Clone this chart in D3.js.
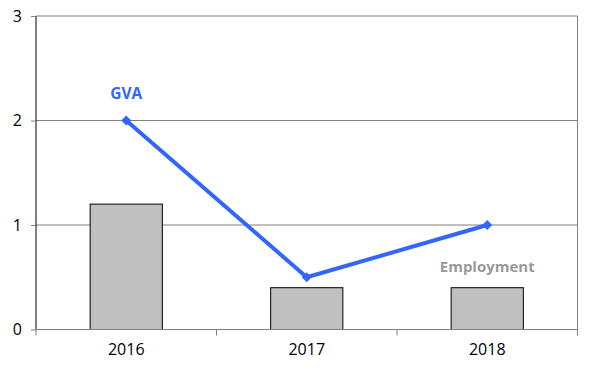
<!DOCTYPE html>
<html><head><meta charset="utf-8">
<script src="https://cdn.jsdelivr.net/npm/d3@7"></script>
<style>body{margin:0;background:#fff}svg{display:block}text{font-family:"Open Sans","DejaVu Sans",sans-serif}</style>
</head><body><svg id="c" width="600" height="375"></svg>
<script>
const categories = ["2016", "2017", "2018"];
const employment = [1.2, 0.4, 0.4];
const gva = [2, 0.5, 1];
const yTicks = [0, 1, 2, 3];
const seriesLabels = ["GVA", "Employment"];

const svg = d3.select("#c");
const m = {l: 36, r: 577.5, t: 16, b: 329.5};
const x = d3.scaleBand().domain(categories).range([m.l, m.r]);
const y = d3.scaleLinear().domain([0, 3]).range([m.b, m.t]);

// gridlines
svg.append("g").selectAll("line").data(yTicks.filter(d => d > 0)).join("line")
  .attr("x1", m.l).attr("x2", m.r).attr("y1", d => y(d)).attr("y2", d => y(d))
  .attr("stroke", "#808080").attr("stroke-width", 1);
// right border
svg.append("line").attr("x1", m.r).attr("x2", m.r).attr("y1", m.t).attr("y2", m.b)
  .attr("stroke", "#808080");

// bars
const bw = x.bandwidth() * 0.4;
svg.append("g").selectAll("rect").data(employment).join("rect")
  .attr("x", (d, i) => x(categories[i]) + x.bandwidth() / 2 - bw / 2)
  .attr("y", d => y(d)).attr("width", bw).attr("height", d => y(0) - y(d))
  .attr("fill", "#c0c0c0").attr("stroke", "#000").attr("stroke-width", 1);

// y axis
const ya = d3.axisLeft(y).tickValues(yTicks).tickSize(5).tickPadding(9).tickFormat(d3.format("d"));
const gy = svg.append("g").attr("transform", `translate(${m.l},0)`).call(ya);
gy.select(".domain").attr("stroke", "#000").attr("d", `M0,${m.t}V${m.b}`);
gy.selectAll(".tick line").attr("stroke", "#808080");
gy.selectAll("text").attr("font-size", 16).attr("fill", "#000");

// x axis
const xa = d3.axisBottom(x).tickSize(0).tickPadding(14);
const gx = svg.append("g").attr("transform", `translate(0,${m.b})`).call(xa);
gx.select(".domain").attr("stroke", "#808080").attr("d", `M${m.l},0H${m.r}`);
gx.selectAll("text").attr("font-size", 16).attr("fill", "#000");
const edges = [m.l, ...categories.slice(1).map(c => x(c)), m.r];
gx.append("g").selectAll("line").data(edges).join("line")
  .attr("x1", d => d).attr("x2", d => d).attr("y1", 0).attr("y2", 6).attr("stroke", "#808080");

// line
const cx = i => x(categories[i]) + x.bandwidth() / 2;
svg.append("path").datum(gva)
  .attr("d", d3.line().x((d, i) => cx(i)).y(d => y(d)))
  .attr("fill", "none").attr("stroke", "#3366ff").attr("stroke-width", 4);
svg.append("g").selectAll("path").data(gva).join("path")
  .attr("d", d3.symbol().type(d3.symbolSquare).size(50))
  .attr("transform", (d, i) => `translate(${cx(i)},${y(d)}) rotate(45)`)
  .attr("fill", "#3366ff");

// labels
svg.append("text").attr("x", cx(0)).attr("y", y(gva[0]) - 22).attr("text-anchor", "middle")
  .attr("font-size", 15.5).attr("font-weight", "bold").attr("fill", "#3366ff").text(seriesLabels[0]);
svg.append("text").attr("x", cx(2)).attr("y", y(employment[2]) - 16).attr("text-anchor", "middle")
  .attr("font-size", 15).attr("font-weight", "bold").attr("fill", "#999999").text(seriesLabels[1]);
</script></body></html>
